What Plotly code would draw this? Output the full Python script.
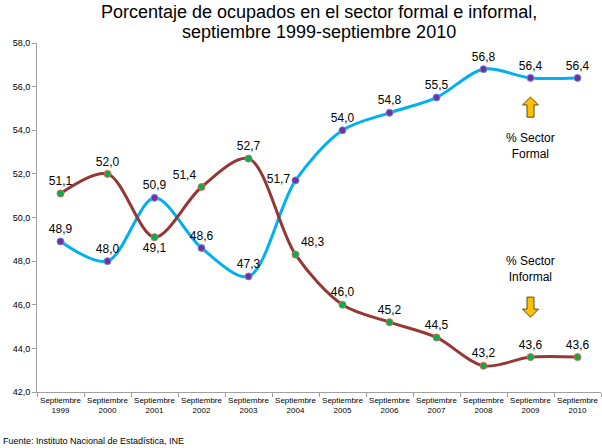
import plotly.graph_objects as go

years = ["1999", "2000", "2001", "2002", "2003", "2004",
         "2005", "2006", "2007", "2008", "2009", "2010"]
categories = ["Septiembre<br>" + y for y in years]

formal = [48.9, 48.0, 50.9, 48.6, 47.3, 51.7, 54.0, 54.8, 55.5, 56.8, 56.4, 56.4]
informal = [51.1, 52.0, 49.1, 51.4, 52.7, 48.3, 46.0, 45.2, 44.5, 43.2, 43.6, 43.6]

formal_pos = ["top center", "top center", "top center", "top center", "top center",
              "middle left", "top center", "top center", "top center", "top center",
              "top center", "top center"]
informal_pos = ["top center", "top center", "bottom center", "top left", "top center",
                "top right", "top center", "top center", "top center", "top center",
                "top center", "top center"]

font = "Liberation Sans, Arial, sans-serif"


def fmt(v):
    return ("%.1f" % v).replace(".", ",")


fig = go.Figure()

fig.add_trace(go.Scatter(
    x=categories, y=formal, mode="lines+markers+text",
    line=dict(color="#00B0F0", width=3, shape="spline", smoothing=0.9),
    marker=dict(color="#7030A0", size=7, line=dict(color="#6A8FD8", width=1)),
    text=[fmt(v) for v in formal], textposition=formal_pos,
    textfont=dict(size=12, color="#000000", family=font),
    name="% Sector Formal", cliponaxis=False,
))
fig.add_trace(go.Scatter(
    x=categories, y=informal, mode="lines+markers+text",
    line=dict(color="#953735", width=3, shape="spline", smoothing=0.9),
    marker=dict(color="#00B050", size=7, line=dict(color="#D9694F", width=1)),
    text=[fmt(v) for v in informal], textposition=informal_pos,
    textfont=dict(size=12, color="#000000", family=font),
    name="% Sector Informal", cliponaxis=False,
))

# block arrows near 2009 (decorative)
ax = 10.5 / 12
hw, sw = 0.0142, 0.0062
fig.add_shape(type="path", xref="paper", yref="y",
              path="M %f 55.52 L %f 55.16 L %f 55.16 L %f 54.6 L %f 54.6 L %f 55.16 L %f 55.16 Z" % (
                  ax, ax - hw, ax - sw, ax - sw, ax + sw, ax + sw, ax + hw),
              fillcolor="#FFC000", line=dict(color="#5a4a1a", width=1))
fig.add_shape(type="path", xref="paper", yref="y",
              path="M %f 45.43 L %f 45.8 L %f 45.8 L %f 46.35 L %f 46.35 L %f 45.8 L %f 45.8 Z" % (
                  ax, ax - hw, ax - sw, ax - sw, ax + sw, ax + sw, ax + hw),
              fillcolor="#FFC000", line=dict(color="#5a4a1a", width=1))

fig.add_annotation(x=categories[10], y=53.27, text="% Sector<br>Formal", showarrow=False,
                   font=dict(size=12, color="#000000", family=font))
fig.add_annotation(x=categories[10], y=47.63, text="% Sector<br>Informal", showarrow=False,
                   font=dict(size=12, color="#000000", family=font))

# title lines
fig.add_annotation(x=0.5, y=1, xref="paper", yref="paper", yshift=31, showarrow=False,
                   xanchor="center", yanchor="middle",
                   text="Porcentaje de ocupados en el sector formal e informal,",
                   font=dict(size=18, color="#000000", family=font))
fig.add_annotation(x=0.5, y=1, xref="paper", yref="paper", yshift=11, showarrow=False,
                   xanchor="center", yanchor="middle",
                   text="septiembre 1999-septiembre 2010",
                   font=dict(size=18, color="#000000", family=font))

fig.add_annotation(x=0, y=0, xref="paper", yref="paper", xshift=-36, yshift=-49,
                   xanchor="left", yanchor="middle", showarrow=False,
                   text="Fuente: Instituto Nacional de Estadística, INE",
                   font=dict(size=9, color="#000000", family=font))

fig.update_layout(
    width=602, height=448,
    margin=dict(l=37, r=1, t=43, b=56),
    paper_bgcolor="white", plot_bgcolor="white",
    showlegend=False,
    separators=",.",
    font=dict(family=font, color="#000000"),
)
fig.update_xaxes(
    type="category", range=[-0.5, 11.5], showgrid=False, showline=True,
    linecolor="#A0A0A0", linewidth=1,
    ticks="outside", tickson="boundaries", ticklen=4, tickcolor="#A0A0A0",
    tickfont=dict(size=8, family=font), tickangle=0,
)
fig.update_yaxes(
    range=[42, 58], dtick=2, tickformat=".1f", showgrid=False, zeroline=False,
    showline=True, linecolor="#A0A0A0", linewidth=1,
    ticks="outside", ticklen=4, tickcolor="#A0A0A0",
    tickfont=dict(size=9, family=font),
)

# drop the default page margin so the figure fills the window
fig.write_html("out.html", config={"displayModeBar": False},
               post_script="document.body.style.margin = '0';")
